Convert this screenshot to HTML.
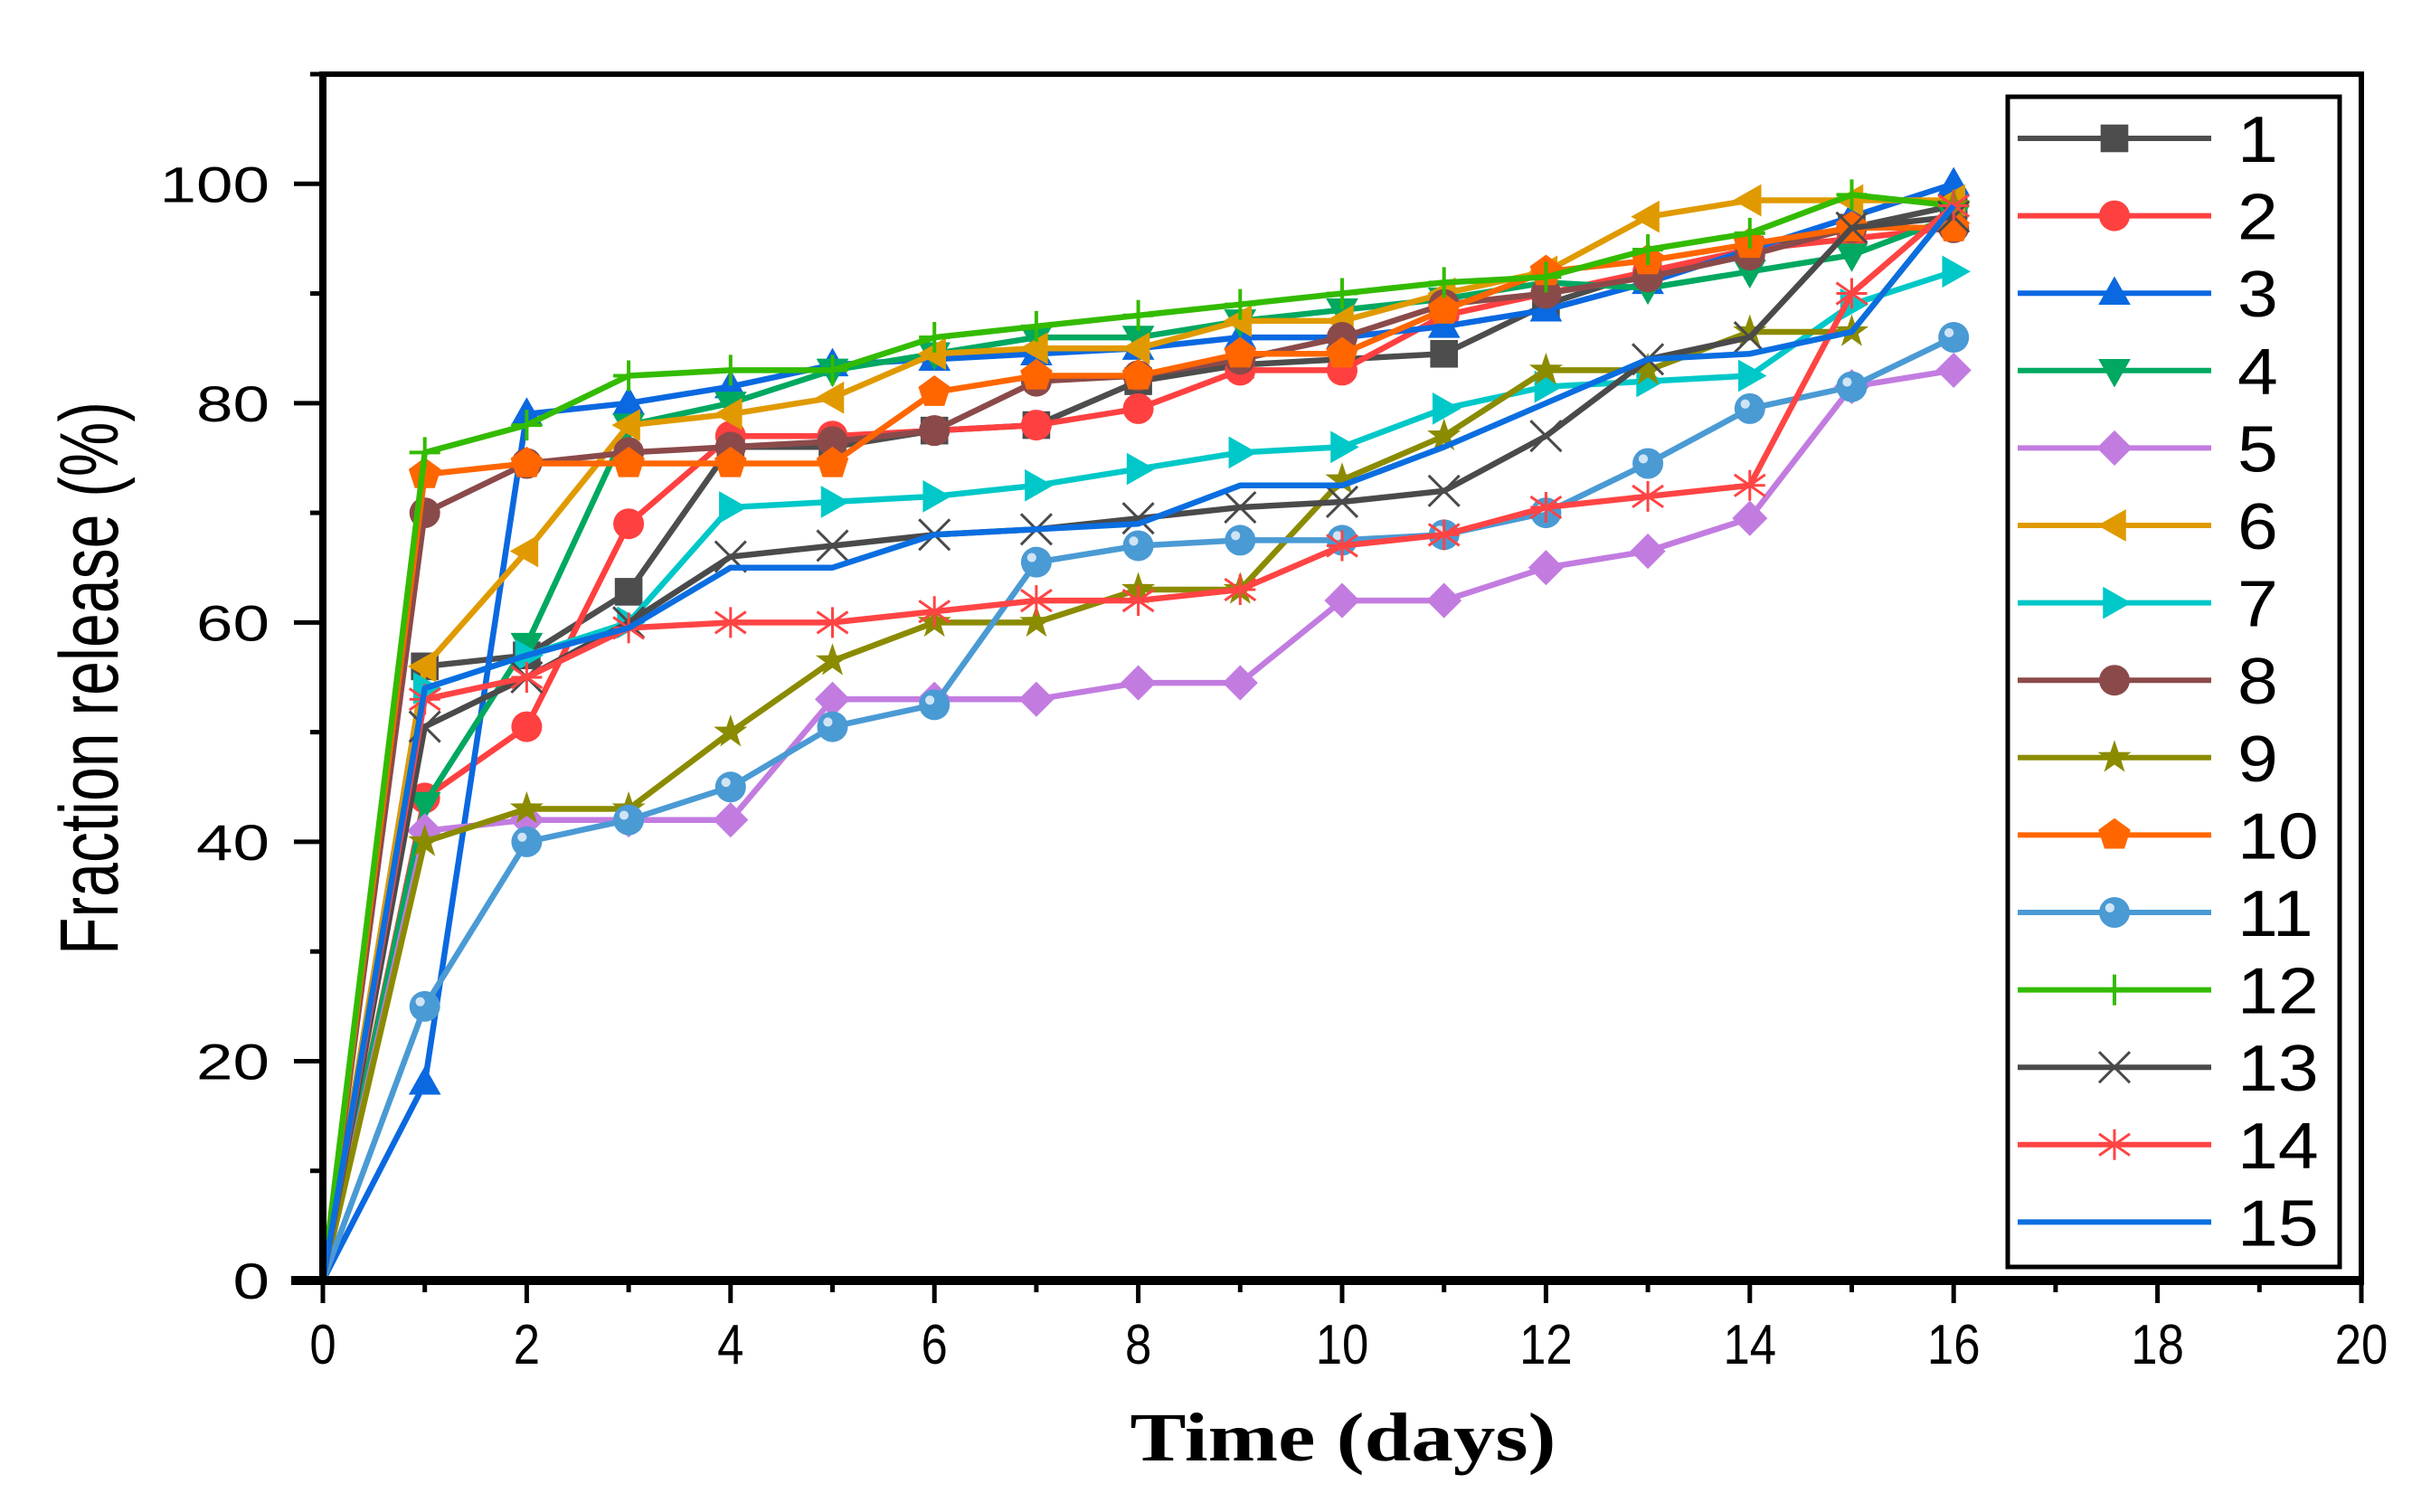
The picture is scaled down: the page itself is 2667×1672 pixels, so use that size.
<!DOCTYPE html>
<html><head><meta charset="utf-8"><style>
html,body{margin:0;padding:0;background:#fff;}
svg{display:block;}
</style></head><body>
<svg id="chart" width="2667" height="1672" viewBox="0 0 2667 1672" xmlns="http://www.w3.org/2000/svg">
<rect x="0" y="0" width="2667" height="1672" fill="#fff"/>
<g id="series"></g>
<g id="axes"></g>
<g id="legend"></g>
</svg>
<script>
const days = [0,1,2,3,4,5,6,7,8,9,10,11,12,13,14,15,16];
const s1  = [0,56,57,62.8,76,76,77.5,78,82,83.5,84,84.5,89,92,94,96,98];
const s2  = [0,44,50.5,69,77,77,77.5,78,79.5,83,83,88,90,92,94,95,96];
const s3  = [0,18,79,80,81.5,83.5,84,84.5,85,86,86,87,88.5,91,94,97,100];
const s4  = [0,43.5,58,78,80,83,84.5,86,86,87.5,88.5,89.5,91,90.5,92,93.5,97];
const s5  = [0,41,42,42,42,53,53,53,54.5,54.5,62,62,65,66.5,69.5,81.5,83];
const s6  = [0,56,66.5,78,79,80.5,84.5,85,85,87.5,87.5,90,92,97,98.5,98.5,98.5];
const s7  = [0,54,57,60,70.5,71,71.5,72.5,74,75.5,76,79.5,81.5,82,82.5,89,92];
const s8  = [0,70,74.5,75.5,76,76.5,77.5,82,82.5,84,86,89,90,91.5,93.5,96,96];
const s9  = [0,40,43,43,50,56.5,60,60,63,63,73,77,83,83,86.5,86.5,98];
const s10 = [0,73.5,74.5,74.5,74.5,74.5,81,82.5,82.5,84.5,84.5,88.5,92,93,94.5,96,96];
const s11 = [0,25,40,42,45,50.5,52.5,65.5,67,67.5,67.5,68,70,74.5,79.5,81.5,86];
const s12 = [0,75.5,78,82.5,83,83,86,87,88,89,90,91,91.5,94,95.5,99,98];
const s13 = [0,50.5,55,60,66,67,68,68.5,69.5,70.5,71,72,77,84,86,96,97];
const s14 = [0,53,55,59.5,60,60,61,62,62,63,67,68,70.5,71.5,72.5,90,98];
const s15 = [0,54,57,59.5,65,65,68,68.5,69,72.5,72.5,76,80,84,84.5,86.5,98];
const seriesNames = ["1","2","3","4","5","6","7","8","9","10","11","12","13","14","15"];
const xTicks = [0,2,4,6,8,10,12,14,16,18,20];
const yTicks = [0,20,40,60,80,100];

const allSeries=[s1,s2,s3,s4,s5,s6,s7,s8,s9,s10,s11,s12,s13,s14,s15];
const colors=["#4d4d4d","#ff4040","#0a68e0","#00a860","#c27ce0","#e09a00","#00c8c8","#8b4a4a","#8b8b00","#ff6600","#4a9ad4","#33bb00","#4a4a4a","#ff4444","#0a6ee0"];
const markers=["square","circle","tri-up","tri-down","diamond","tri-left","tri-right","circle","star","pentagon","sphere","plus","cross","asterisk","none"];
const NS="http://www.w3.org/2000/svg";
const X0=357,X1=2611,Y0=1416,YT=82;
const xScale=v=>X0+(v-0)/(20-0)*(X1-X0);
const yScale=v=>Y0-(v-0)/(110-0)*(Y0-YT);
function mk(tag,attrs,parent){const e=document.createElementNS(NS,tag);for(const k in attrs)e.setAttribute(k,attrs[k]);parent.appendChild(e);return e;}
function marker(type,cx,cy,c,g,r){
  let e=null;
  const pts=a=>a.map(p=>(cx+p[0]*r)+","+(cy+p[1]*r)).join(" ");
  if(type==="square")e=mk("rect",{x:cx-r*0.9,y:cy-r*0.9,width:r*1.8,height:r*1.8,fill:c},g);
  else if(type==="circle"||type==="sphere"){e=mk("circle",{cx:cx,cy:cy,r:r,fill:c},g);if(type==="sphere")mk("circle",{cx:cx-r*0.3,cy:cy-r*0.3,r:r*0.3,fill:"#cfe4f5"},g);}
  else if(type==="tri-up")e=mk("polygon",{points:pts([[0,-1.1],[1.05,0.75],[-1.05,0.75]]),fill:c},g);
  else if(type==="tri-down")e=mk("polygon",{points:pts([[0,1.1],[1.05,-0.75],[-1.05,-0.75]]),fill:c},g);
  else if(type==="tri-left")e=mk("polygon",{points:pts([[-1.1,0],[0.75,1.05],[0.75,-1.05]]),fill:c},g);
  else if(type==="tri-right")e=mk("polygon",{points:pts([[1.1,0],[-0.75,1.05],[-0.75,-1.05]]),fill:c},g);
  else if(type==="diamond")e=mk("polygon",{points:pts([[0,-1.15],[1.15,0],[0,1.15],[-1.15,0]]),fill:c},g);
  else if(type==="pentagon"){const a=[];for(let i=0;i<5;i++){const t=-Math.PI/2+i*2*Math.PI/5;a.push([Math.cos(t)*1.1,Math.sin(t)*1.1]);}e=mk("polygon",{points:pts(a),fill:c},g);}
  else if(type==="star"){const a=[];for(let i=0;i<10;i++){const t=-Math.PI/2+i*Math.PI/5;const rr=i%2?0.45:1.15;a.push([Math.cos(t)*rr,Math.sin(t)*rr]);}e=mk("polygon",{points:pts(a),fill:c},g);}
  else if(type==="plus")e=mk("path",{d:`M${cx-r} ${cy}H${cx+r}M${cx} ${cy-r}V${cy+r}`,stroke:c,"stroke-width":4,fill:"none"},g);
  else if(type==="cross")e=mk("path",{d:`M${cx-r} ${cy-r}L${cx+r} ${cy+r}M${cx+r} ${cy-r}L${cx-r} ${cy+r}`,stroke:c,"stroke-width":3,fill:"none"},g);
  else if(type==="asterisk")e=mk("path",{d:`M${cx-r} ${cy-r*0.7}L${cx+r} ${cy+r*0.7}M${cx+r} ${cy-r*0.7}L${cx-r} ${cy+r*0.7}M${cx} ${cy-r}V${cy+r}M${cx-r} ${cy}H${cx+r}`,stroke:c,"stroke-width":3,fill:"none"},g);
  if(e){
  }
}
const sg=document.getElementById("series");
allSeries.forEach((vals,i)=>{
  const g=mk("g",{},sg);
  
  
  const d=vals.map((v,j)=>(j?"L":"M")+xScale(days[j]).toFixed(1)+" "+yScale(v).toFixed(1)).join("");
  const p=mk("path",{d:d,stroke:colors[i],"stroke-width":6.5,fill:"none","stroke-linejoin":"round"},g);
  
  
  vals.forEach((v,j)=>{ if(j>0) marker(markers[i],xScale(days[j]),yScale(v),colors[i],g,17); });
});
// axes
const ag=document.getElementById("axes");
const frame=mk("rect",{x:X0,y:YT,width:X1-X0,height:Y0-YT,fill:"none",stroke:"#000","stroke-width":6},ag);


const xl=mk("line",{x1:X0-35,y1:Y0,x2:X1+3,y2:Y0,stroke:"#000","stroke-width":10},ag);


const yl=mk("line",{x1:X0,y1:YT-3,x2:X0,y2:Y0+5,stroke:"#000","stroke-width":8},ag);


for(let v=0;v<=20;v++){const x=xScale(v);const major=v%2===0;mk("line",{x1:x,y1:Y0,x2:x,y2:Y0+(major?25:13),stroke:"#000","stroke-width":5},ag);}
for(let v=0;v<=110;v+=10){const y=yScale(v);const major=v%20===0;mk("line",{x1:X0,y1:y,x2:X0-(major?32:14),y2:y,stroke:"#000","stroke-width":5},ag);}
xTicks.forEach(v=>{const g=mk("g",{transform:`translate(${xScale(v)} 1508) scale(0.85 1)`},ag);const t=mk("text",{x:0,y:0,"font-family":"Liberation Sans, sans-serif","font-size":62,"text-anchor":"middle"},g);t.textContent=v;
  
  });
yTicks.forEach(v=>{const g=mk("g",{transform:`translate(298 ${yScale(v)+20}) scale(1.3 1)`},ag);const t=mk("text",{x:0,y:0,"font-family":"Liberation Sans, sans-serif","font-size":56,"text-anchor":"end"},g);t.textContent=v;
  
  });
const yt=mk("text",{x:0,y:0,transform:"translate(130 750) rotate(-90)","font-family":"Liberation Sans, sans-serif","font-size":92,"text-anchor":"middle",textLength:612,lengthAdjust:"spacingAndGlyphs"},ag);
yt.textContent="Fraction release (%)";


const xt=mk("text",{x:1485,y:1615,"font-family":"Liberation Serif, serif","font-weight":"bold","font-size":76,"text-anchor":"middle",textLength:471,lengthAdjust:"spacingAndGlyphs"},ag);
xt.textContent="Time (days)";


// legend
const lg=document.getElementById("legend");


const lb=mk("rect",{x:2220,y:107,width:367,height:1294,fill:"#fff",stroke:"#000","stroke-width":5},lg);


seriesNames.forEach((n,i)=>{
  const y=153+i*85.6;
  const g=mk("g",{},lg);
  
  
  mk("line",{x1:2231,y1:y,x2:2445,y2:y,stroke:colors[i],"stroke-width":6},g);
  marker(markers[i],2338,y,colors[i],g,17);
  const tg=mk("g",{transform:`translate(2474 ${y+26}) scale(1.12 1)`},g);
  const t=mk("text",{x:0,y:0,"font-family":"Liberation Sans, sans-serif","font-size":72},tg);
  t.textContent=n;
  
  
});
</script>
</body></html>
